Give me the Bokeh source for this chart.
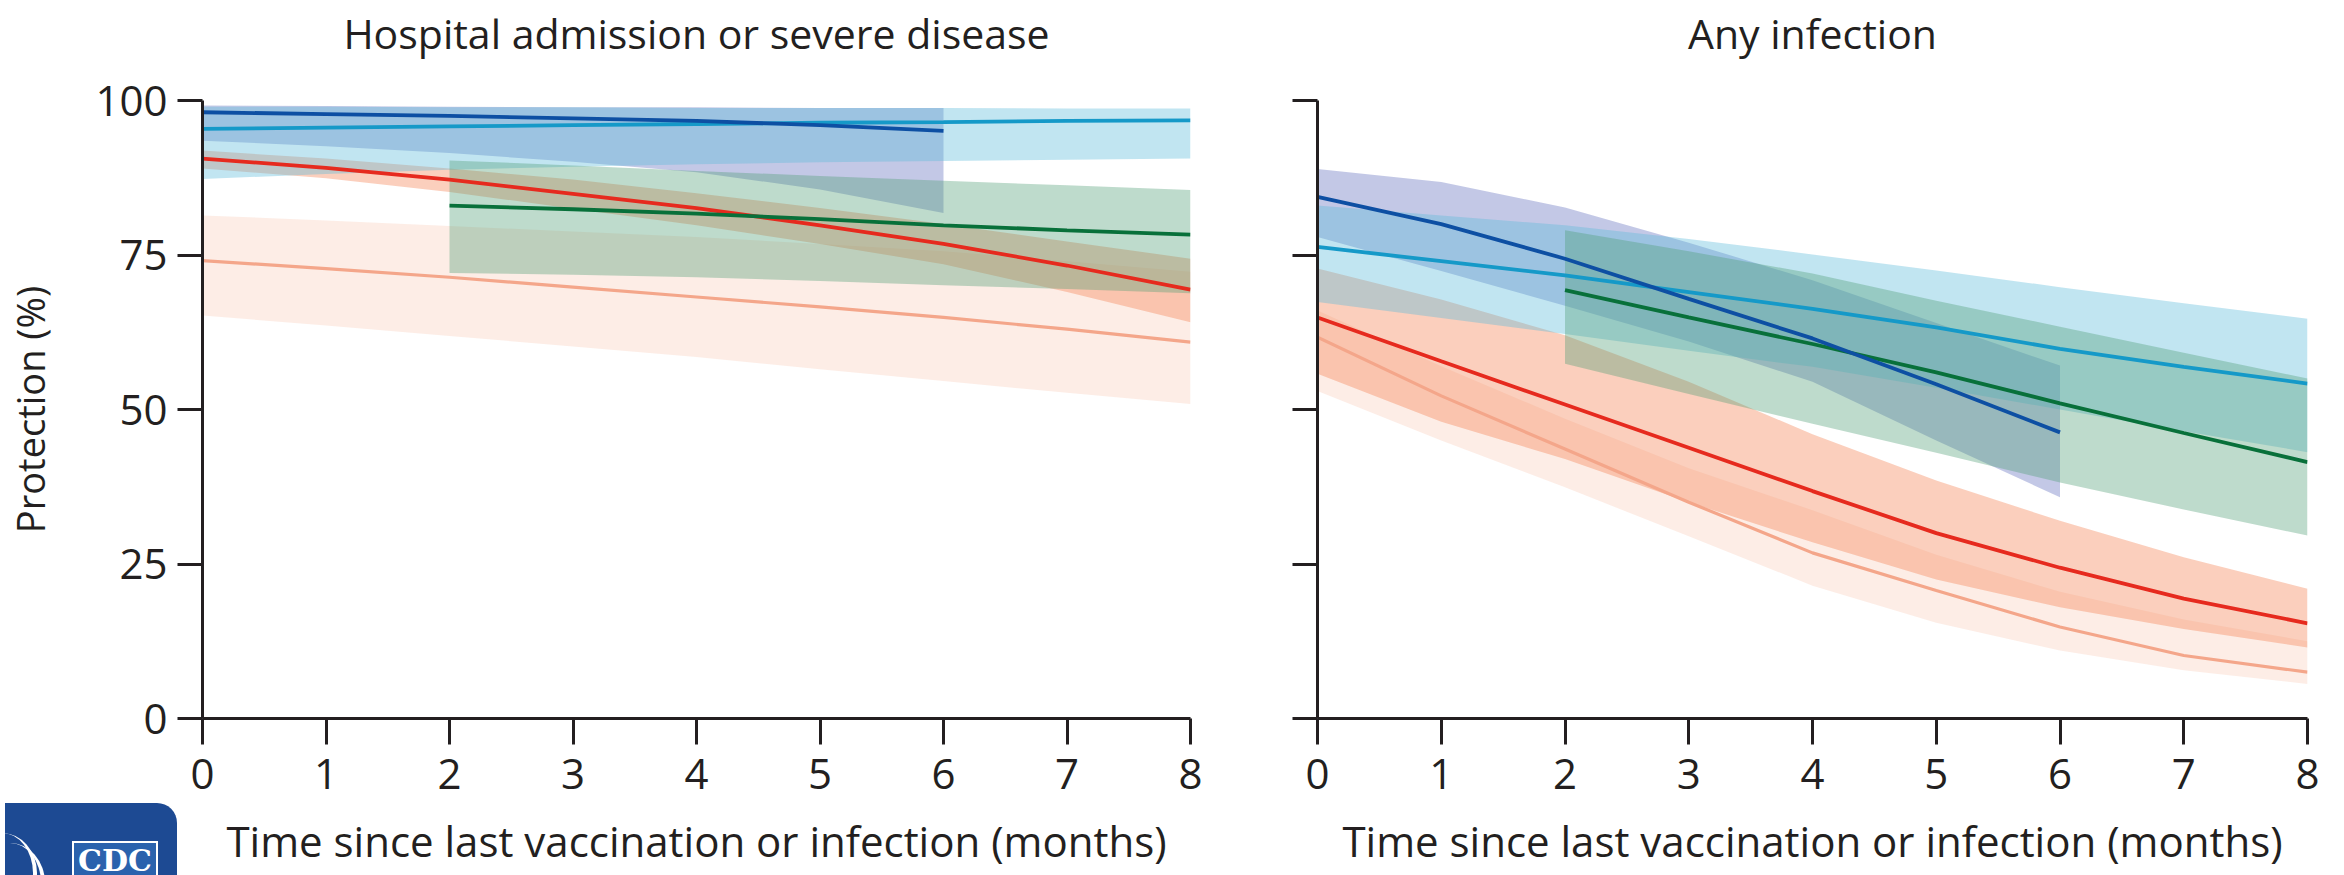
from bokeh.plotting import figure
from bokeh.layouts import row, column
from bokeh.models import FixedTicker, Range1d, Div, LinearAxis
from bokeh.embed import file_html
from bokeh.resources import INLINE

# ---------------- data ----------------
months = [0, 1, 2, 3, 4, 5, 6, 7, 8]
months_0_6 = [0, 1, 2, 3, 4, 5, 6]
months_2_8 = [2, 3, 4, 5, 6, 7, 8]
y_ticks = [0, 25, 50, 75, 100]

titles = ["Hospital admission or severe disease", "Any infection"]
x_label = "Time since last vaccination or infection (months)"
y_label = "Protection (%)"

# Left panel: hospital admission or severe disease
hosp_navy = [98.1, 97.8, 97.5, 97.1, 96.7, 96.0, 95.1]
hosp_navy_hi = [99.2, 99.1, 99.0, 98.9, 98.9, 98.8, 98.8]
hosp_navy_lo = [93.5, 92.6, 91.5, 90.1, 88.4, 85.6, 81.8]
hosp_cyan = [95.4, 95.6, 95.8, 96.0, 96.2, 96.4, 96.5, 96.7, 96.8]
hosp_cyan_hi = [99.0, 99.0, 98.9, 98.9, 98.8, 98.8, 98.8, 98.7, 98.7]
hosp_cyan_lo = [87.3, 88.1, 88.8, 89.3, 89.7, 90.0, 90.2, 90.4, 90.6]
hosp_green = [83.0, 82.4, 81.7, 80.8, 79.8, 79.0, 78.3]
hosp_green_hi = [90.3, 89.5, 88.6, 87.8, 87.0, 86.3, 85.5]
hosp_green_lo = [72.1, 71.8, 71.4, 70.8, 70.1, 69.5, 68.8]
hosp_red = [90.6, 89.1, 87.2, 84.9, 82.6, 79.8, 76.8, 73.3, 69.4]
hosp_red_hi = [91.9, 90.6, 89.0, 87.2, 85.0, 82.6, 80.0, 77.2, 74.4]
hosp_red_lo = [89.0, 87.4, 85.2, 82.5, 79.8, 76.8, 73.5, 69.0, 64.1]
hosp_salmon = [74.1, 72.8, 71.4, 69.8, 68.2, 66.6, 64.9, 63.0, 60.9]
hosp_salmon_hi = [81.4, 80.6, 79.7, 78.8, 77.9, 76.8, 75.6, 74.0, 72.3]
hosp_salmon_lo = [65.2, 63.6, 61.9, 60.2, 58.5, 56.5, 54.6, 52.7, 50.9]

# Right panel: any infection
inf_navy = [84.4, 80.0, 74.4, 67.9, 61.5, 54.1, 46.3]
inf_navy_hi = [88.9, 86.8, 82.7, 77.0, 70.9, 64.0, 57.1]
inf_navy_lo = [77.9, 72.4, 66.8, 61.0, 54.5, 45.0, 35.8]
inf_cyan = [76.3, 74.0, 71.7, 69.0, 66.3, 63.3, 59.8, 56.9, 54.2]
inf_cyan_hi = [83.0, 81.4, 79.8, 77.6, 75.1, 72.5, 69.8, 67.2, 64.7]
inf_cyan_lo = [67.4, 64.8, 62.2, 59.5, 56.9, 53.5, 50.0, 46.5, 43.1]
inf_green = [69.3, 64.9, 60.6, 56.0, 51.0, 46.2, 41.5]
inf_green_hi = [79.0, 75.6, 72.0, 67.6, 63.4, 59.2, 55.0]
inf_green_lo = [57.4, 52.5, 47.7, 43.0, 38.2, 33.8, 29.6]
inf_red = [64.9, 57.8, 50.8, 43.8, 36.8, 30.0, 24.4, 19.4, 15.4]
inf_red_hi = [72.8, 67.8, 62.0, 54.5, 46.0, 38.5, 32.0, 26.1, 21.0]
inf_red_lo = [55.8, 48.0, 42.0, 35.0, 28.5, 22.5, 18.0, 14.5, 11.5]
inf_salmon = [61.7, 52.2, 43.6, 35.0, 26.8, 20.7, 14.8, 10.2, 7.5]
inf_salmon_hi = [66.0, 57.0, 48.5, 40.5, 33.7, 26.5, 20.5, 16.0, 12.5]
inf_salmon_lo = [53.0, 45.0, 37.4, 29.5, 21.5, 15.5, 11.0, 7.8, 5.6]

# ---------------- styles ----------------
FONT = "Open Sans"
INK = "#231f20"
C_NAVY, F_NAVY = "#0d4fa3", "#7b86c8"
C_CYAN, F_CYAN = "#1599c8", "#5bbbd9"
C_GREEN, F_GREEN = "#08703a", "#4f9e74"
C_RED, F_RED = "#e62a1e", "#f4875a"
C_SALMON, F_SALMON = "#f4a68a", "#f6b79c"

FRAME_H = 618


def make_panel(title, show_y, min_left, min_right, frame_w, series):
    p = figure(frame_width=frame_w, frame_height=FRAME_H,
               min_border_left=min_left, min_border_right=min_right,
               min_border_top=100, min_border_bottom=157,
               x_range=Range1d(0, 8), y_range=Range1d(0, 100),
               output_backend="svg", toolbar_location=None)
    p.outline_line_color = None
    p.xgrid.visible = False
    p.ygrid.visible = False
    p.background_fill_color = "white"
    p.border_fill_color = "white"

    xa = p.below[0]
    ya = p.left[0]
    for ax in (xa, ya):
        ax.axis_line_width = 3
        ax.axis_line_color = INK
        ax.major_tick_line_width = 3
        ax.major_tick_line_color = INK
        ax.major_tick_in = 0
        ax.minor_tick_line_color = None
        ax.major_label_text_font = FONT
        ax.major_label_text_font_size = "42px"
        ax.major_label_text_color = INK
        ax.axis_label_text_font = FONT
        ax.axis_label_text_font_size = "42px"
        ax.axis_label_text_font_style = "normal"
        ax.axis_label_text_color = INK

    xa.ticker = FixedTicker(ticks=months)
    xa.major_tick_out = 26
    xa.major_label_standoff = 14
    xa.axis_label = x_label
    xa.axis_label_standoff = 20

    ya.ticker = FixedTicker(ticks=y_ticks)
    ya.major_tick_out = 25
    if show_y:
        ya.major_label_standoff = 10
        ya.axis_label = y_label
        ya.axis_label_text_font_size = "38px"
        ya.axis_label_standoff = 36
    else:
        ya.major_label_overrides = {t: "" for t in y_ticks}
        ya.major_label_standoff = 0

    # panel title: label of a bare axis above the frame
    top = LinearAxis(ticker=FixedTicker(ticks=[]), axis_label=title,
                     axis_line_color=None, major_tick_line_color=None,
                     minor_tick_line_color=None, major_tick_out=0, major_tick_in=0,
                     major_label_standoff=0, major_label_text_font_size="0px",
                     axis_label_standoff=40, axis_label_text_font=FONT,
                     axis_label_text_font_size="41px",
                     axis_label_text_font_style="normal",
                     axis_label_text_color=INK)
    p.add_layout(top, "above")

    s = series
    # bands
    p.varea(x=months, y1=s["salmon_lo"], y2=s["salmon_hi"], fill_color=F_SALMON, fill_alpha=0.25)
    p.varea(x=months, y1=s["red_lo"], y2=s["red_hi"], fill_color=F_RED, fill_alpha=0.40)
    p.varea(x=months_0_6, y1=s["navy_lo"], y2=s["navy_hi"], fill_color=F_NAVY, fill_alpha=0.45)
    p.varea(x=months, y1=s["cyan_lo"], y2=s["cyan_hi"], fill_color=F_CYAN, fill_alpha=0.38)
    p.varea(x=months_2_8, y1=s["green_lo"], y2=s["green_hi"], fill_color=F_GREEN, fill_alpha=0.37)
    # lines
    p.line(months, s["salmon"], line_color=C_SALMON, line_width=3.2)
    p.line(months, s["red"], line_color=C_RED, line_width=3.8)
    p.line(months, s["cyan"], line_color=C_CYAN, line_width=3.8)
    p.line(months_2_8, s["green"], line_color=C_GREEN, line_width=3.8)
    p.line(months_0_6, s["navy"], line_color=C_NAVY, line_width=3.8)
    return p


left_series = dict(navy=hosp_navy, navy_hi=hosp_navy_hi, navy_lo=hosp_navy_lo,
                   cyan=hosp_cyan, cyan_hi=hosp_cyan_hi, cyan_lo=hosp_cyan_lo,
                   green=hosp_green, green_hi=hosp_green_hi, green_lo=hosp_green_lo,
                   red=hosp_red, red_hi=hosp_red_hi, red_lo=hosp_red_lo,
                   salmon=hosp_salmon, salmon_hi=hosp_salmon_hi, salmon_lo=hosp_salmon_lo)
right_series = dict(navy=inf_navy, navy_hi=inf_navy_hi, navy_lo=inf_navy_lo,
                    cyan=inf_cyan, cyan_hi=inf_cyan_hi, cyan_lo=inf_cyan_lo,
                    green=inf_green, green_hi=inf_green_hi, green_lo=inf_green_lo,
                    red=inf_red, red_hi=inf_red_hi, red_lo=inf_red_lo,
                    salmon=inf_salmon, salmon_hi=inf_salmon_hi, salmon_lo=inf_salmon_lo)

p1 = make_panel(titles[0], True, 202, 78, 988, left_series)
p2 = make_panel(titles[1], False, 49, 30, 990, right_series)

# CDC logo in the bottom-left corner, pulled up over the empty corner of the left panel
logo_html = (
    '<div style="position:relative;width:172px;height:72px;background:#1d4a93;'
    'border-top-right-radius:20px;overflow:hidden;">'
    '<div style="position:absolute;left:-38px;top:30px;width:70px;height:80px;'
    'border-right:4px solid white;border-radius:50%;"></div>'
    '<div style="position:absolute;left:-30px;top:40px;width:70px;height:80px;'
    'border-right:4px solid white;border-radius:50%;"></div>'
    '<div style="position:absolute;left:67px;top:38px;width:86px;height:44px;'
    'border:2px solid white;background:#2a62ad;color:white;'
    'font-family:\'DejaVu Serif\';font-weight:bold;font-size:30px;line-height:36px;'
    'text-align:center;">CDC</div></div>'
)
logo = Div(text=logo_html, width=172, height=72,
           styles={"margin-top": "-72px", "position": "relative", "z-index": "10"})

layout = column(row(p1, p2), logo)
open("out.html", "w").write(file_html(layout, INLINE))
